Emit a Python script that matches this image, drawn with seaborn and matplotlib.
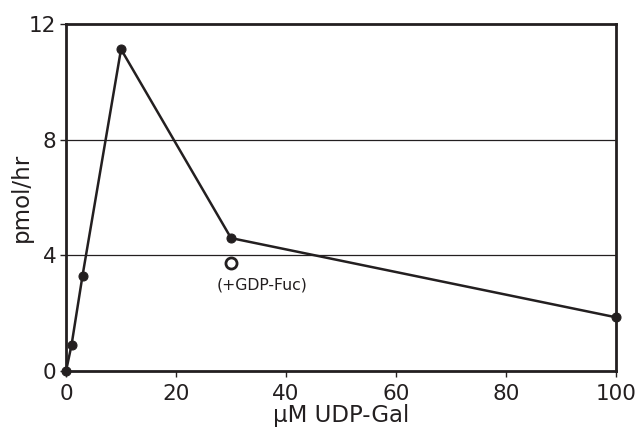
import matplotlib
matplotlib.use("Agg")
import matplotlib.pyplot as plt
import seaborn as sns
import pandas as pd

conc = [0, 1, 3, 10, 30, 100]
rate = [0.0, 0.9, 3.3, 11.13, 4.6, 1.86]
fuc_conc = [30]
fuc_rate = [3.75]
xticks = [0, 20, 40, 60, 80, 100]
yticks = [0, 4, 8, 12]

sns.set_theme(style="white")
plt.rcParams['font.family'] = ['DejaVu Sans']

fig = plt.figure(figsize=(6.41, 4.30), dpi=100)
ax = fig.add_axes([0.103, 0.137, 0.858, 0.807])

df = pd.DataFrame({"conc": conc, "rate": rate})
sns.lineplot(data=df, x="conc", y="rate", ax=ax, color="#231f20", lw=1.8,
             marker="o", markersize=6.5, markeredgecolor="#231f20", clip_on=False, zorder=5)
ax.plot(fuc_conc, fuc_rate, marker="o", ls="none", markersize=8, mfc="white",
        mec="#231f20", mew=2, zorder=5)
ax.text(35.7, 2.98, "(+GDP-Fuc)", ha="center", va="center", fontsize=11.3, color="#231f20")

for yv in [4, 8]:
    ax.axhline(yv, color="#231f20", lw=0.9, zorder=1)

ax.set_xlim(0, 100)
ax.set_ylim(0, 12)
ax.set_xticks(xticks)
ax.set_yticks(yticks)
ax.tick_params(axis="both", direction="out", length=4, width=1, color="#231f20",
               labelsize=15.5, labelcolor="#231f20", bottom=True, left=True)
ax.tick_params(axis="x", pad=5)
ax.tick_params(axis="y", pad=3)
ax.set_xlabel("μM UDP-Gal", fontsize=16.5, color="#231f20", labelpad=0)
ax.set_ylabel("pmol/hr", fontsize=16.5, color="#231f20", labelpad=-3)
for s in ax.spines.values():
    s.set_color("#231f20")
    s.set_linewidth(2)
    s.set_visible(True)

fig.savefig("out.png", dpi=100)
